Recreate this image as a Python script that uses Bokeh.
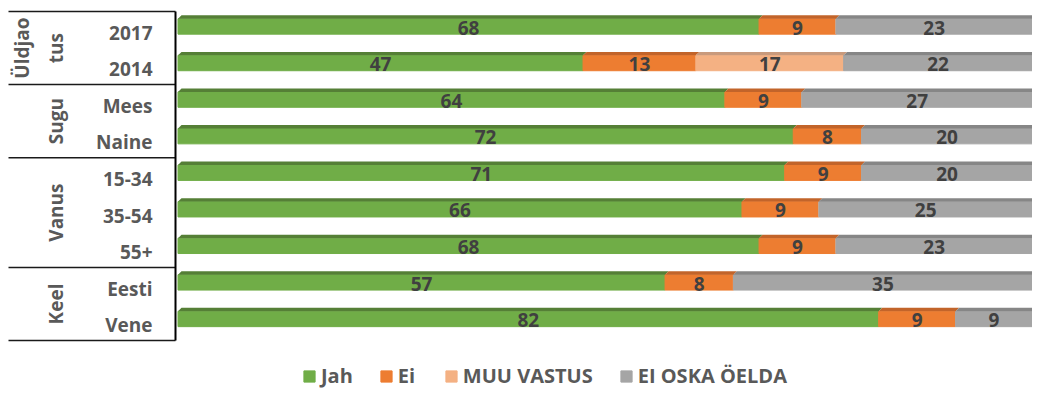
import math
from bokeh.plotting import figure
from bokeh.models import Range1d, ColumnDataSource
from bokeh.core.properties import value
from bokeh.embed import file_html
from bokeh.resources import INLINE

# ---------------- data ----------------
categories = ["2017", "2014", "Mees", "Naine", "15-34", "35-54", "55+", "Eesti", "Vene"]
jah = [68, 47.4, 64, 72, 71, 66, 68, 57, 82]
ei = [9, 13.2, 9, 8, 9, 9, 9, 8, 9]
muu_vastus = [0, 17.3, 0, 0, 0, 0, 0, 0, 0]
ei_oska = [23, 22.1, 27, 20, 20, 25, 23, 35, 9]
series_names = ["Jah", "Ei", "MUU VASTUS", "EI OSKA ÖELDA"]
groups = ["Üldjaotus", "Sugu", "Vanus", "Keel"]
group_sizes = [2, 2, 3, 2]

# ---------------- style ----------------
colors = ["#70AD47", "#ED7D31", "#F4B183", "#A5A5A5"]
top_colors = ["#557F36", "#C2642A", "#C99A7C", "#868686"]
FONT = "Open Sans"
FS = "19px"

W, H = 1032, 389
x0_px = 177.5            # where 0 % sits, in figure px
px_per_unit = (W - x0_px) / 100.0
band_px = 36.56          # category band height
band0_px = 11            # top of first band, in figure px

def xu(px):
    return (px - x0_px) / px_per_unit

x_range = Range1d(xu(0), xu(W))
y_range = Range1d((H - band0_px) / band_px, -band0_px / band_px)

p = figure(width=W, height=H, x_range=x_range, y_range=y_range,
           output_backend="svg", toolbar_location=None,
           x_axis_location=None, y_axis_location=None,
           min_border=0, outline_line_color=None)
p.grid.visible = False

n = len(categories)
body_top, body_bot = 0.20, 0.62
strip_top = 0.105
src = ColumnDataSource(dict(
    y=[i + (body_top + body_bot) / 2 for i in range(n)],
    **{series_names[0]: jah, series_names[1]: ei,
       series_names[2]: muu_vastus, series_names[3]: ei_oska}))

p.hbar_stack(series_names, y="y", height=body_bot - body_top, color=colors,
             source=src, legend_label=series_names)

# 3D top strips and data labels
all_series = [jah, ei, muu_vastus, ei_oska]
slant = 3.5 / px_per_unit
sx, sy, sc = [], [], []
lx, ly, lt = [], [], []
for i in range(n):
    left = 0
    for k, ser in enumerate(all_series):
        v = ser[i]
        if v > 0:
            r = left + v
            sx.append([left, r, r + slant, left + slant])
            sy.append([i + body_top, i + body_top, i + strip_top, i + strip_top])
            sc.append(top_colors[k])
            lx.append(left + v / 2)
            ly.append(i + 0.44)
            lt.append(str(int(round(v))))
        left += v
p.patches(xs=sx, ys=sy, fill_color=sc, line_color=None)
p.text(x=lx, y=ly, text=lt, text_align="center", text_baseline="middle",
       text_font=value(FONT), text_font_style="bold", text_font_size=FS,
       text_color="#404040")

# category labels
p.text(x=[xu(152)] * n, y=[i + 0.58 for i in range(n)], text=categories,
       text_align="right", text_baseline="middle",
       text_font=value(FONT), text_font_style="bold", text_font_size=FS,
       text_color="#595959")

# group labels and separators
bounds = [0]
for s in group_sizes:
    bounds.append(bounds[-1] + s)
gx, gy, gt = [], [], []
for g, name in enumerate(groups):
    c = (bounds[g] + bounds[g + 1]) / 2
    if name == "Üldjaotus":
        gx += [xu(21.5), xu(55.5)]
        gy += [c, c]
        gt += ["Üldjao", "tus"]
    else:
        gx.append(xu(55.5))
        gy.append(c)
        gt.append(name)
p.text(x=gx, y=gy, text=gt, angle=math.pi / 2, text_align="center",
       text_baseline="middle", text_font=value(FONT), text_font_style="bold",
       text_font_size=FS, text_color="#595959")

axis_x = xu(175)
p.segment(x0=[xu(8)] * len(bounds), x1=[axis_x] * len(bounds), y0=bounds, y1=bounds,
          line_color="#1a1a1a", line_width=1.5)
p.segment(x0=[axis_x], x1=[axis_x], y0=[bounds[0]], y1=[bounds[-1]],
          line_color="#000000", line_width=2)

# legend
lg = p.legend[0]
lg.orientation = "horizontal"
lg.location = (302, 0)
lg.label_text_font = FONT
lg.label_text_font_style = "bold"
lg.label_text_font_size = "20px"
lg.label_text_color = "#595959"
lg.glyph_width = 14
lg.glyph_height = 14
lg.label_standoff = 5
lg.spacing = 26
lg.padding = 0
lg.margin = 0
lg.border_line_color = None
lg.background_fill_alpha = 0

open("out.html", "w").write(file_html(p, INLINE))
